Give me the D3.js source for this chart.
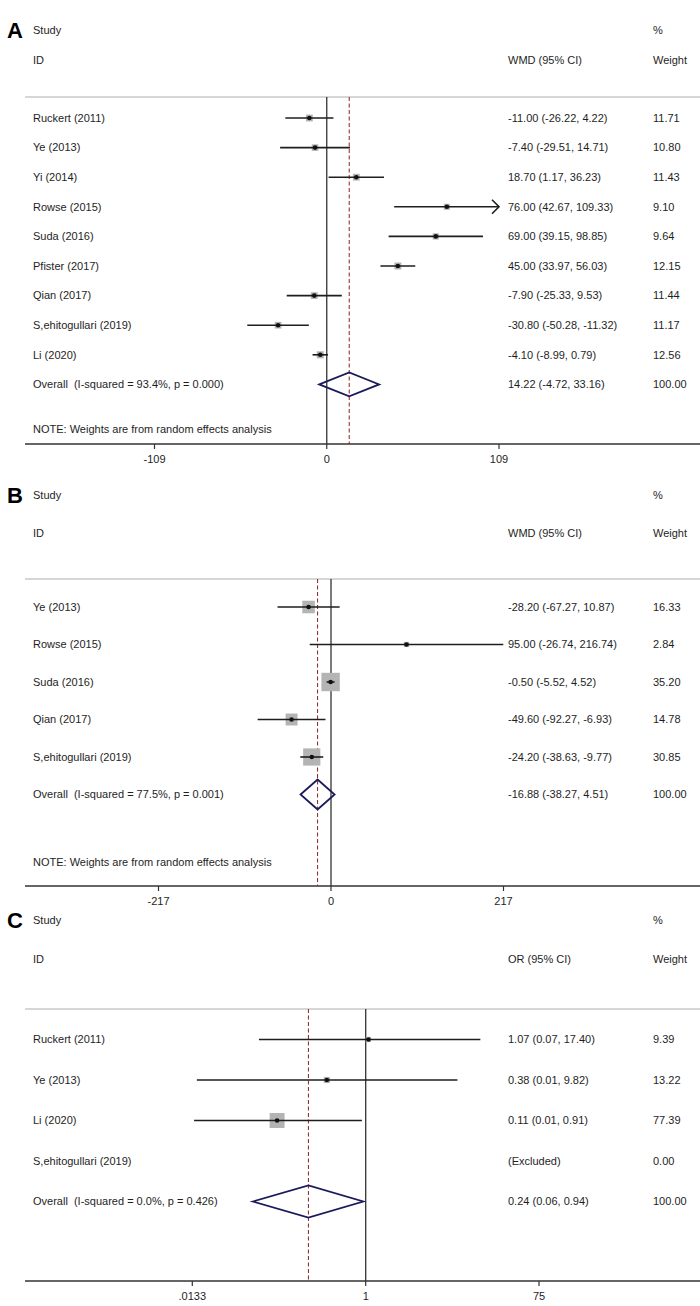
<!DOCTYPE html>
<html>
<head>
<meta charset="utf-8">
<script src="https://cdn.jsdelivr.net/npm/d3@7"></script>
<style>
  body { margin: 0; background: #fff; }
  text { font-family: "Liberation Sans", Arial, sans-serif; fill: #1e1e1e; }
</style>
</head>
<body>
<script>
// panel A - WMD
var studiesA = ["Ruckert (2011)", "Ye (2013)", "Yi (2014)", "Rowse (2015)", "Suda (2016)", "Pfister (2017)", "Qian (2017)", "S,ehitogullari (2019)", "Li (2020)"];
var estA = [-11.00, -7.40, 18.70, 76.00, 69.00, 45.00, -7.90, -30.80, -4.10];
var lowA = [-26.22, -29.51, 1.17, 42.67, 39.15, 33.97, -25.33, -50.28, -8.99];
var highA = [4.22, 14.71, 36.23, 109.33, 98.85, 56.03, 9.53, -11.32, 0.79];
var weightA = [11.71, 10.80, 11.43, 9.10, 9.64, 12.15, 11.44, 11.17, 12.56];
var overallA = [14.22, -4.72, 33.16];
var hetA = "Overall  (I-squared = 93.4%, p = 0.000)";
var ticksA = [-109, 0, 109];
var tickLabelsA = ["-109", "0", "109"];

// panel B
var studiesB = ["Ye (2013)", "Rowse (2015)", "Suda (2016)", "Qian (2017)", "S,ehitogullari (2019)"];
var estB = [-28.20, 95.00, -0.50, -49.60, -24.20];
var lowB = [-67.27, -26.74, -5.52, -92.27, -38.63];
var highB = [10.87, 216.74, 4.52, -6.93, -9.77];
var weightB = [16.33, 2.84, 35.20, 14.78, 30.85];
var overallB = [-16.88, -38.27, 4.51];
var hetB = "Overall  (I-squared = 77.5%, p = 0.001)";
var ticksB = [-217, 0, 217];
var tickLabelsB = ["-217", "0", "217"];

// panel C (odds ratios, log axis)
var studiesC = ["Ruckert (2011)", "Ye (2013)", "Li (2020)", "S,ehitogullari (2019)"];
var estC = [1.07, 0.38, 0.11, null];
var lowC = [0.07, 0.0149, 0.0139, null];
var highC = [17.40, 9.82, 0.91, null];
var weightC = [9.39, 13.22, 77.39, 0.00];
var overallC = [0.24, 0.06, 0.94];
var hetC = "Overall  (I-squared = 0.0%, p = 0.426)";
var ticksC = [0.0133, 1, 75];
var tickLabelsC = [".0133", "1", "75"];

var f2 = d3.formatLocale({decimal: ".", thousands: ",", grouping: [3], currency: ["", ""], minus: "-"}).format(".2f");
var FS = "11px";

var svg = d3.select("body").append("svg").attr("width", 700).attr("height", 1306);

function label(g, x, y, s) {
    return g.append("text").attr("x", x).attr("y", y).attr("dy", "0.35em")
        .style("font-size", FS).style("white-space", "pre").text(s);
}

function drawPanel(p) {
    var g = svg.append("g");
    var x = p.scale;
    var n = p.studies.length;
    var y = d3.scaleLinear().domain([0, n]).range([p.row0, p.row0 + n * p.step]);

    g.append("text").attr("x", 7).attr("y", p.headY).attr("dy", "0.36em")
        .style("font-size", "22px").style("font-weight", "bold").style("fill", "#000").text(p.letter);
    label(g, 33, p.headY, "Study");
    label(g, 33, p.idY, "ID");
    label(g, 508, p.idY, p.measure);
    label(g, 653, p.headY, "%");
    label(g, 653, p.idY, "Weight");

    // top rule
    g.append("line").attr("x1", 25).attr("x2", 700).attr("y1", p.ruleY).attr("y2", p.ruleY)
        .style("stroke", "#c8c8c8").style("stroke-width", 1.5);

    // axis
    var xmax = x(p.ticks[p.ticks.length - 1]);
    g.append("line").attr("x1", 25).attr("x2", 700).attr("y1", p.axisY).attr("y2", p.axisY)
        .style("stroke", "#333").style("stroke-width", 1.5);
    p.ticks.forEach(function(t, i) {
        g.append("line").attr("x1", x(t)).attr("x2", x(t)).attr("y1", p.axisY).attr("y2", p.axisY + 5)
            .style("stroke", "#333").style("stroke-width", 1.2);
        label(g, x(t), p.axisY + 15, p.tickLabels[i]).attr("text-anchor", "middle");
    });

    // null line and overall dashed line
    g.append("line").attr("x1", x(p.nullVal)).attr("x2", x(p.nullVal)).attr("y1", p.ruleY).attr("y2", p.axisY)
        .style("stroke", "#333").style("stroke-width", 1.3);
    g.append("line").attr("x1", x(p.overall[0])).attr("x2", x(p.overall[0])).attr("y1", p.ruleY).attr("y2", p.axisY)
        .style("stroke", "#8b2020").style("stroke-width", 1).style("stroke-dasharray", "4,2.5");

    for (var i = 0; i < n; i++) {
        var yy = y(i);
        label(g, 33, yy, p.studies[i]);
        var lab = p.est[i] === null ? "(Excluded)" :
            f2(p.est[i]) + " (" + f2(p.low[i]) + ", " + f2(p.high[i]) + ")";
        label(g, 508, yy, lab);
        label(g, 653, yy, f2(p.weight[i]));
        if (p.est[i] === null) continue;

        var side = p.boxK * Math.sqrt(p.weight[i]);
        g.append("rect").attr("x", x(p.est[i]) - side / 2).attr("y", yy - side / 2)
            .attr("width", side).attr("height", side).style("fill", "#b4b4b4");
        var hi = Math.min(p.high[i], p.ticks[p.ticks.length - 1]);
        var lo = Math.max(p.low[i], p.ticks[0]);
        g.append("line").attr("x1", x(lo)).attr("x2", x(hi)).attr("y1", yy).attr("y2", yy)
            .style("stroke", "#1e1e1e").style("stroke-width", 1.6);
        if (p.high[i] > p.ticks[p.ticks.length - 1]) {
            g.append("path")
                .attr("d", "M" + (xmax - 7) + "," + (yy - 7) + "L" + xmax + "," + yy + "L" + (xmax - 7) + "," + (yy + 7))
                .style("fill", "none").style("stroke", "#1e1e1e").style("stroke-width", 1.6);
        }
        g.append("circle").attr("cx", x(p.est[i])).attr("cy", yy).attr("r", 2.3).style("fill", "#111");
    }

    // overall diamond
    var yo = y(n);
    label(g, 33, yo, p.het);
    label(g, 508, yo, f2(p.overall[0]) + " (" + f2(p.overall[1]) + ", " + f2(p.overall[2]) + ")");
    label(g, 653, yo, "100.00");
    var ox = x(p.overall[0]), ol = x(p.overall[1]), orr = x(p.overall[2]);
    g.append("path")
        .attr("d", "M" + ol + "," + yo + "L" + ox + "," + (yo - p.diaH) + "L" + orr + "," + yo + "L" + ox + "," + (yo + p.diaH) + "Z")
        .style("fill", "none").style("stroke", "#1b1b5c").style("stroke-width", 1.8);

    if (p.noteY) {
        label(g, 33, p.noteY, "NOTE: Weights are from random effects analysis");
    }
}

drawPanel({
    letter: "A", measure: "WMD (95% CI)",
    studies: studiesA, est: estA, low: lowA, high: highA, weight: weightA,
    overall: overallA, het: hetA, ticks: ticksA, tickLabels: tickLabelsA,
    scale: d3.scaleLinear().domain([-109, 109]).range([154.5, 499]),
    nullVal: 0, headY: 30, idY: 60, ruleY: 97, row0: 118, step: 29.6,
    noteY: 429, axisY: 444, boxK: 2.0, diaH: 12
});

drawPanel({
    letter: "B", measure: "WMD (95% CI)",
    studies: studiesB, est: estB, low: lowB, high: highB, weight: weightB,
    overall: overallB, het: hetB, ticks: ticksB, tickLabels: tickLabelsB,
    scale: d3.scaleLinear().domain([-217, 217]).range([158.5, 503.5]),
    nullVal: 0, headY: 495, idY: 533, ruleY: 579, row0: 607, step: 37.5,
    noteY: 862, axisY: 886, boxK: 3.1, diaH: 15
});

drawPanel({
    letter: "C", measure: "OR (95% CI)",
    studies: studiesC, est: estC, low: lowC, high: highC, weight: weightC,
    overall: overallC, het: hetC, ticks: ticksC, tickLabels: tickLabelsC,
    scale: d3.scaleLog().domain([0.0133, 75]).range([192.3, 539]),
    nullVal: 1, headY: 920, idY: 959, ruleY: 1009, row0: 1039.5, step: 40.5,
    noteY: null, axisY: 1281, boxK: 1.7, diaH: 16
});
</script>
</body>
</html>
